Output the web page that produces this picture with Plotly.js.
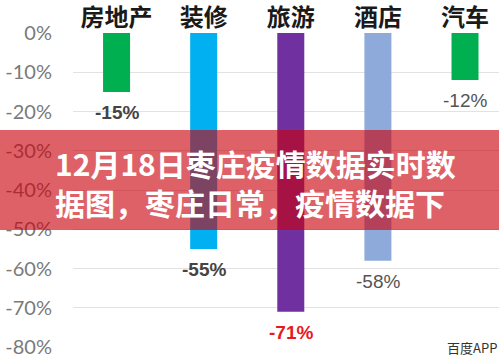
<!DOCTYPE html>
<html>
<head>
<meta charset="utf-8">
<script src="https://cdn.plot.ly/plotly-3.0.1.min.js"></script>
<style>html,body{margin:0;padding:0;background:#fff;overflow:hidden;}</style>
</head>
<body>
<div id="chart" style="width:499px;height:358px;"></div>
<script>
const categories = ['房地产', '装修', '旅游', '酒店', '汽车'];
const values = [-15, -55, -71, -58, -12];
const barColors = ['#00b050', '#00b0f0', '#7030a0', '#8eaadb', '#00b050'];
const labelColors = ['#444444', '#444444', '#e8191e', '#555555', '#555555'];
const labelBold = [true, true, true, false, false];
const yTickVals = [0, -10, -20, -30, -40, -50, -60, -70, -80];
const yTickText = ['0%', '-10%', '-20%', '-30%', '-40%', '-50%', '-60%', '-70%', '-80%'];
const titleText = '12月18日枣庄疫情数据实时数<br>据图，枣庄日常，疫情数据下';

const trace = {
  type: 'bar',
  x: categories,
  y: values,
  marker: {color: barColors},
  width: 0.31,
  hoverinfo: 'skip'
};

const annotations = categories.map((c, i) => ({
  x: c, y: values[i], xref: 'x', yref: 'y',
  text: labelBold[i] ? '<b>' + values[i] + '%</b>' : values[i] + '%',
  showarrow: false, yanchor: 'top', yshift: -8,
  font: {family: 'Liberation Sans, Arial, sans-serif', size: 19, color: labelColors[i]}
}));

annotations.push({
  xref: 'paper', yref: 'paper', x: -0.047, y: 0.524,
  xanchor: 'left', yanchor: 'middle', align: 'left',
  text: '<b>' + titleText + '</b>', showarrow: false,
  font: {family: 'Noto Sans CJK SC, sans-serif', size: 30, color: '#ffffff'}
});

annotations.push({
  xref: 'paper', yref: 'paper', x: 1.0, y: 0.0,
  xanchor: 'right', yanchor: 'middle',
  text: '百度APP', showarrow: false,
  font: {family: 'Noto Sans CJK SC, sans-serif', size: 13, color: '#333333'}
});

const layout = {
  width: 499, height: 358,
  margin: {l: 73, r: 0, t: 33, b: 11},
  paper_bgcolor: '#ffffff', plot_bgcolor: '#ffffff',
  showlegend: false,
  xaxis: {
    type: 'category', side: 'top', range: [-0.5, 4.39],
    showgrid: false, zeroline: false, showline: false, ticks: '',
    tickfont: {family: 'Noto Sans CJK SC, sans-serif', size: 24, color: '#1a1a1a', weight: 'bold'},
    ticklabelstandoff: 1
  },
  yaxis: {
    range: [-80, 0], tickvals: yTickVals, ticktext: yTickText,
    showgrid: true, gridcolor: '#e2e2e2', gridwidth: 1,
    zeroline: false, showline: false, ticks: '',
    tickfont: {family: 'Lato, Open Sans, sans-serif', size: 20, color: '#7a7a7a'},
    ticklabelstandoff: 20
  },
  shapes: [{
    type: 'rect', xref: 'paper', yref: 'y', layer: 'above',
    x0: -0.3, x1: 1.1, y0: -24.7, y1: -50.2,
    fillcolor: 'rgba(202,0,11,0.62)', line: {width: 0}
  }],
  annotations: annotations
};

Plotly.newPlot('chart', [trace], layout, {displayModeBar: false, staticPlot: true});
</script>
</body>
</html>
